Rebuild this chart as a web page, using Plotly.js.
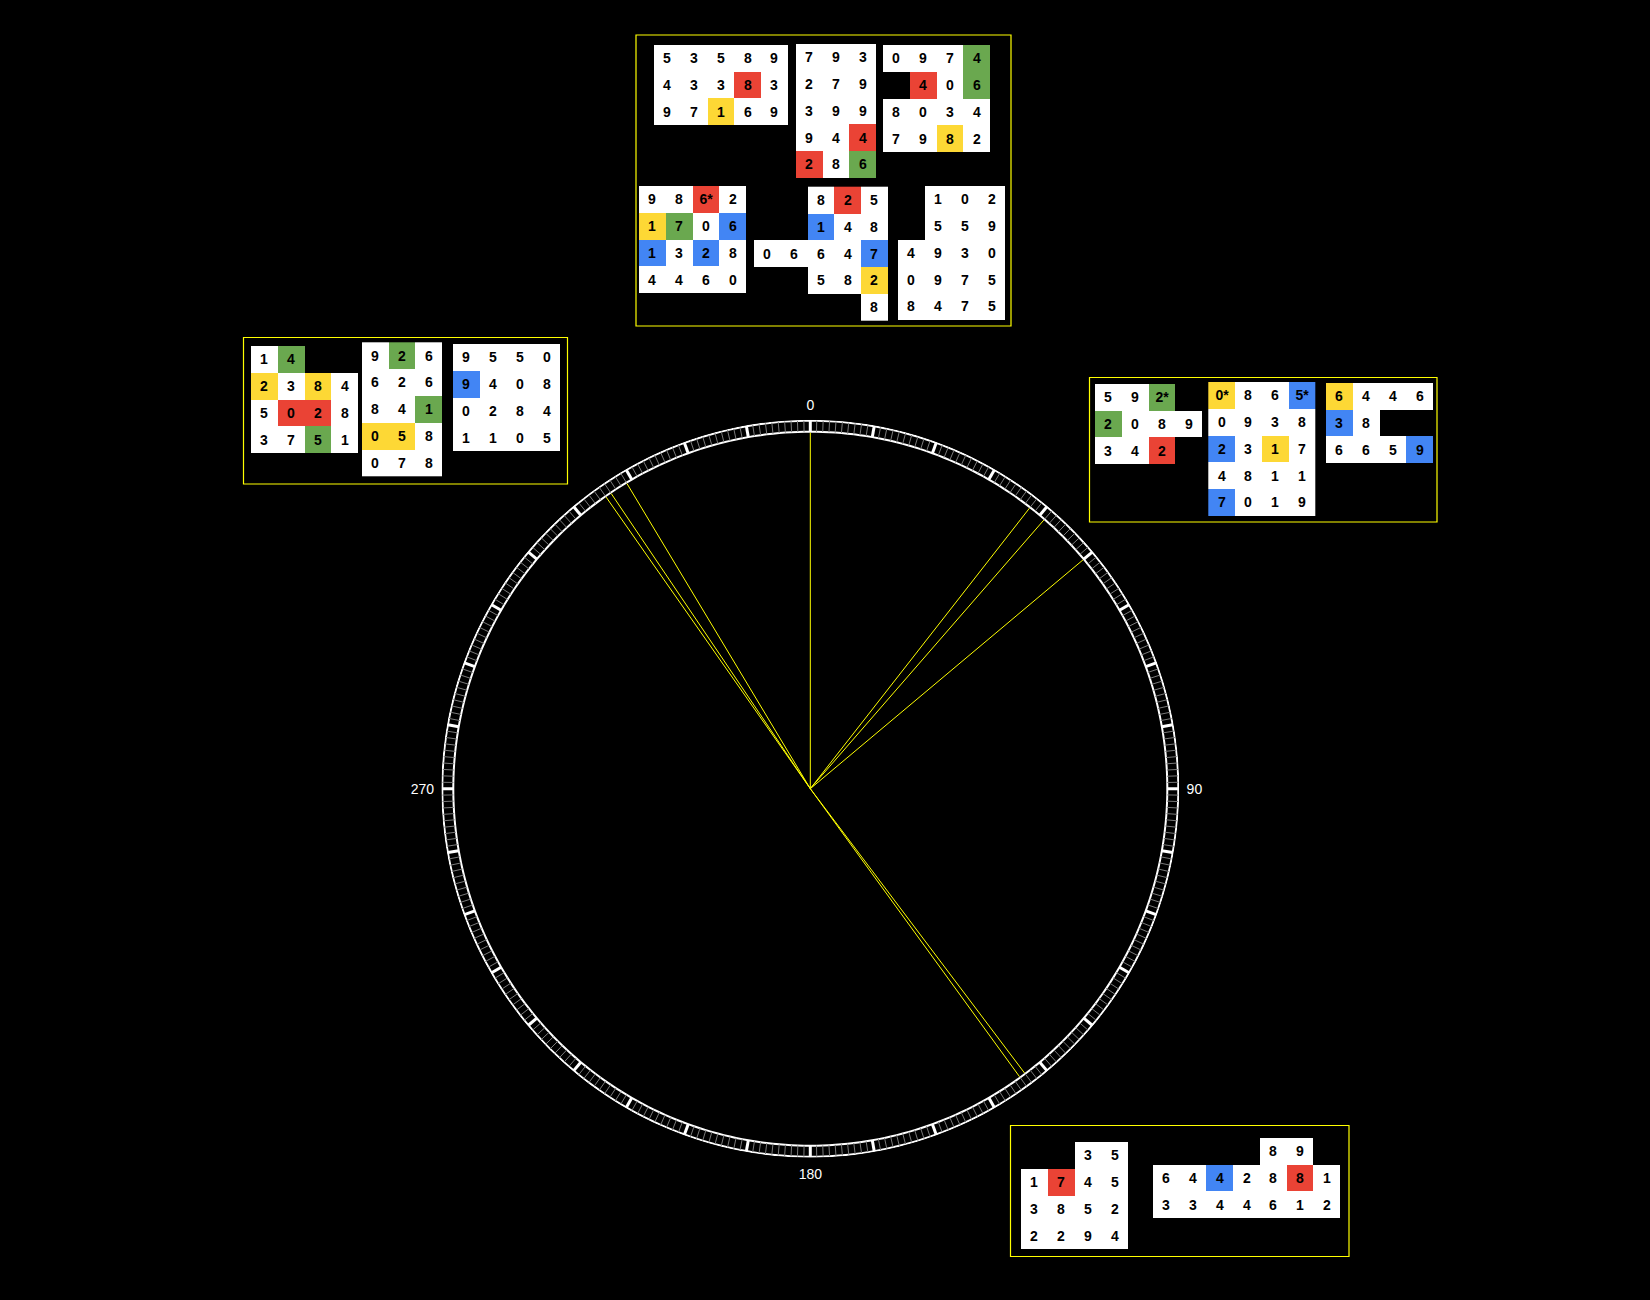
<!DOCTYPE html>
<html>
<head>
<meta charset="utf-8">
<script src="https://cdn.plot.ly/plotly-3.0.1.min.js"></script>
<style>html,body{margin:0;padding:0;background:#000;}#chart{width:1650px;height:1300px;}</style>
</head>
<body>
<div id="chart"></div>
<script>
// ---------- DATA ----------
// Angles (degrees, clockwise from north) of the yellow rays
const rayAngles = [0, 38, 41, 50, 143, 144, 325, 326, 329];
// Angular axis labels
const angleTickVals = [0, 90, 180, 270];
const angleTickText = ["0", "90", "180", "270"];

// Digit grids ("" = empty cell) and colour codes (w white, r red, y yellow, g green, b blue, . empty)
const gridA_digits = [["5","3","5","8","9"],["4","3","3","8","3"],["9","7","1","6","9"]];
const gridA_colors = ["wwwww","wwwrw","wwyww"];
const gridB_digits = [["7","9","3"],["2","7","9"],["3","9","9"],["9","4","4"],["2","8","6"]];
const gridB_colors = ["www","www","www","wwr","rwg"];
const gridC_digits = [["0","9","7","4"],["","4","0","6"],["8","0","3","4"],["7","9","8","2"]];
const gridC_colors = ["wwwg",".rwg","wwww","wwyw"];
const gridD_digits = [["9","8","6*","2"],["1","7","0","6"],["1","3","2","8"],["4","4","6","0"]];
const gridD_colors = ["wwrw","ygwb","bwbw","wwww"];
const gridE_digits = [["","","8","2","5"],["","","1","4","8"],["0","6","6","4","7"],["","","5","8","2"],["","","","","8"]];
const gridE_colors = ["..wrw","..bww","wwwwb","..wwy","....w"];
const gridF_digits = [["","1","0","2"],["","5","5","9"],["4","9","3","0"],["0","9","7","5"],["8","4","7","5"]];
const gridF_colors = [".www",".www","wwww","wwww","wwww"];
const gridG_digits = [["1","4","",""],["2","3","8","4"],["5","0","2","8"],["3","7","5","1"]];
const gridG_colors = ["wg..","ywyw","wrrw","wwgw"];
const gridH_digits = [["9","2","6"],["6","2","6"],["8","4","1"],["0","5","8"],["0","7","8"]];
const gridH_colors = ["wgw","www","wwg","yyw","www"];
const gridI_digits = [["9","5","5","0"],["9","4","0","8"],["0","2","8","4"],["1","1","0","5"]];
const gridI_colors = ["wwww","bwww","wwww","wwww"];
const gridJ_digits = [["5","9","2*",""],["2","0","8","9"],["3","4","2",""]];
const gridJ_colors = ["wwg.","gwww","wwr."];
const gridK_digits = [["0*","8","6","5*"],["0","9","3","8"],["2","3","1","7"],["4","8","1","1"],["7","0","1","9"]];
const gridK_colors = ["ywwb","wwww","bwyw","wwww","bwww"];
const gridL_digits = [["6","4","4","6"],["3","8","",""],["6","6","5","9"]];
const gridL_colors = ["ywww","bw..","wwwb"];
const gridM_digits = [["","","3","5"],["1","7","4","5"],["3","8","5","2"],["2","2","9","4"]];
const gridM_colors = ["..ww","wrww","wwww","wwww"];
const gridN_digits = [["","","","","8","9",""],["6","4","4","2","8","8","1"],["3","3","4","4","6","1","2"]];
const gridN_colors = ["....ww.","wwbwwrw","wwwwwww"];

// ---------- LAYOUT CONFIG (positions / styles) ----------
const W = 1650, H = 1300;
const CELL = 26.72;
const placement = [
  {d: gridA_digits, c: gridA_colors, left: 654,   top: 45},
  {d: gridB_digits, c: gridB_colors, left: 796,   top: 44},
  {d: gridC_digits, c: gridC_colors, left: 883,   top: 45},
  {d: gridD_digits, c: gridD_colors, left: 639,   top: 186},
  {d: gridE_digits, c: gridE_colors, left: 754,   top: 186.7},
  {d: gridF_digits, c: gridF_colors, left: 898,   top: 186},
  {d: gridG_digits, c: gridG_colors, left: 251,   top: 346},
  {d: gridH_digits, c: gridH_colors, left: 362,   top: 342.3},
  {d: gridI_digits, c: gridI_colors, left: 453,   top: 344},
  {d: gridJ_digits, c: gridJ_colors, left: 1095,  top: 384},
  {d: gridK_digits, c: gridK_colors, left: 1208.3,top: 382},
  {d: gridL_digits, c: gridL_colors, left: 1326,  top: 383},
  {d: gridM_digits, c: gridM_colors, left: 1021,  top: 1142},
  {d: gridN_digits, c: gridN_colors, left: 1153,  top: 1138}
];
const panels = [
  [636, 35, 1011, 326],
  [243.5, 337.5, 567.5, 484],
  [1089.5, 377.5, 1437, 522],
  [1010.5, 1125.5, 1349, 1256.5]
];
const CX = 810.3, CY = 788.7, R_OUT = 369, R_RING_O = 368, R_RING_I = 357;
const colorIndex = {w: 0, r: 1, y: 2, g: 3, b: 4};
const palette = ["#ffffff", "#ea4335", "#fdd835", "#6aa84f", "#4285f4"];
const discreteScale = [];
palette.forEach((col, i) => {
  discreteScale.push([i / palette.length, col]);
  discreteScale.push([(i + 1) / palette.length, col]);
});

const traces = [];

// grids as heatmaps
placement.forEach(g => {
  const rows = g.d.length, cols = g.d[0].length;
  const xs = [], ys = [], z = [], txt = [];
  for (let c = 0; c < cols; c++) xs.push(g.left + (c + 0.5) * CELL);
  for (let r = 0; r < rows; r++) {
    ys.push(g.top + (r + 0.5) * CELL);
    const zr = [], tr = [];
    for (let c = 0; c < cols; c++) {
      const code = g.c[r][c];
      if (code === '.') { zr.push(null); tr.push(''); }
      else { zr.push(colorIndex[code]); tr.push(g.d[r][c]); }
    }
    z.push(zr); txt.push(tr);
  }
  traces.push({
    type: 'heatmap', x: xs, y: ys, z: z, text: txt,
    texttemplate: '%{text}',
    textfont: {family: 'Liberation Sans, Arial, sans-serif', size: 14, color: '#000', weight: 'bold'},
    colorscale: discreteScale, zmin: -0.5, zmax: 4.5, showscale: false,
    hoverinfo: 'skip', xgap: 0, ygap: 0
  });
});

// ring: circles
const circTheta = [];
for (let a = 0; a <= 360; a += 1) circTheta.push(a);
[R_RING_O, R_RING_I].forEach(rr => {
  traces.push({type: 'scatterpolar', mode: 'lines', r: circTheta.map(() => rr), theta: circTheta,
    line: {color: '#ffffff', width: 2}, hoverinfo: 'skip', showlegend: false});
});
// ring ticks
const minR = [], minT = [], majR = [], majT = [];
for (let a = 0; a < 360; a++) {
  if (a % 10 === 0) { majR.push(R_RING_I, R_RING_O, null); majT.push(a, a, null); }
  else { minR.push(R_RING_I, R_RING_O, null); minT.push(a, a, null); }
}
traces.push({type: 'scatterpolar', mode: 'lines', r: minR, theta: minT,
  line: {color: '#7a7a7a', width: 1}, hoverinfo: 'skip', showlegend: false});
traces.push({type: 'scatterpolar', mode: 'lines', r: majR, theta: majT,
  line: {color: '#ffffff', width: 3}, hoverinfo: 'skip', showlegend: false});
// rays
const rayR = [], rayT = [];
rayAngles.forEach(a => { rayR.push(0, R_RING_I - 1, null); rayT.push(a, a, null); });
traces.push({type: 'scatterpolar', mode: 'lines', r: rayR, theta: rayT,
  line: {color: '#ffff00', width: 1}, hoverinfo: 'skip', showlegend: false});

const shapes = panels.map(p => ({
  type: 'rect', xref: 'x', yref: 'y', x0: p[0], y0: p[1], x1: p[2], y1: p[3],
  line: {color: '#ffff00', width: 1.2}, fillcolor: 'rgba(0,0,0,0)', layer: 'below'
}));

const layout = {
  width: W, height: H,
  margin: {l: 0, r: 0, t: 0, b: 0, pad: 0},
  paper_bgcolor: '#000', plot_bgcolor: '#000',
  showlegend: false,
  xaxis: {range: [0, W], visible: false, fixedrange: true, domain: [0, 1]},
  yaxis: {range: [H, 0], visible: false, fixedrange: true, domain: [0, 1]},
  shapes: shapes,
  polar: {
    domain: {x: [(CX - R_OUT) / W, (CX + R_OUT) / W], y: [(H - CY - R_OUT) / H, (H - CY + R_OUT) / H]},
    bgcolor: 'rgba(0,0,0,0)',
    radialaxis: {visible: false, range: [0, R_OUT]},
    angularaxis: {
      rotation: 90, direction: 'clockwise',
      tickmode: 'array', tickvals: angleTickVals, ticktext: angleTickText,
      tickfont: {family: 'Liberation Sans, Arial, sans-serif', size: 14, color: '#ffffff'},
      ticks: 'outside', ticklen: 4, tickcolor: 'rgba(0,0,0,0)',
      showgrid: false, showline: false
    }
  }
};

Plotly.newPlot('chart', traces, layout, {staticPlot: true, displayModeBar: false});
</script>
</body>
</html>
